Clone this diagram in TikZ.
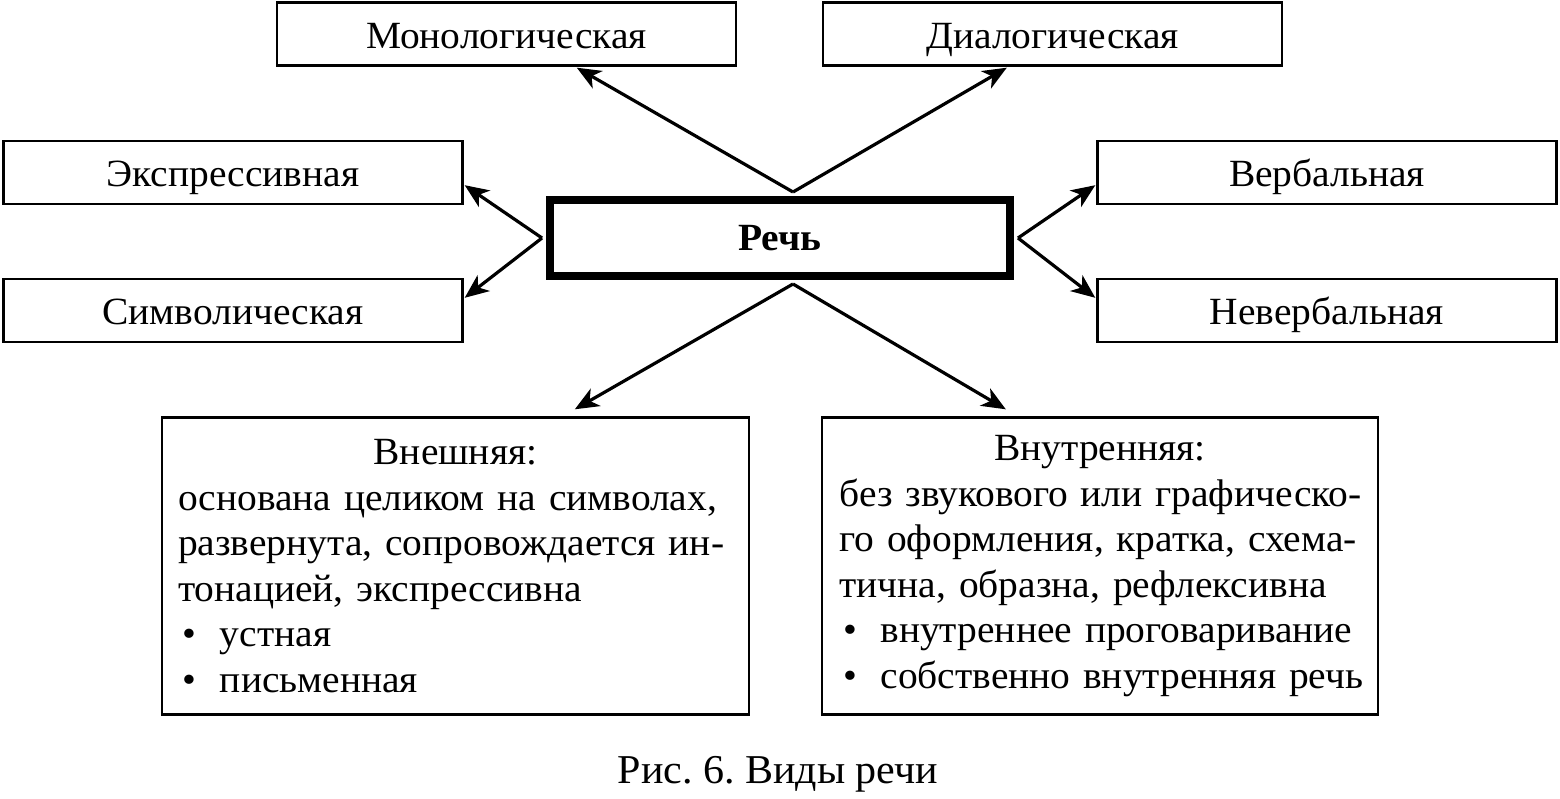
\documentclass[tikz,border=0pt]{standalone}
\usepackage{fontspec}
\setmainfont[FakeStretch=1.025]{Liberation Serif}
\usetikzlibrary{arrows.meta,calc}
\begin{document}
\frenchspacing
\begin{tikzpicture}[x=1pt,y=-1pt,
  txt/.style={font=\fontsize{38.5}{45.5}\selectfont},
  lbl/.style={draw,line width=2.4pt,minimum width=459pt,minimum height=63pt,inner sep=0pt,text height=30pt,text depth=2pt,txt},
  big/.style={draw,line width=2.4pt,minimum height=297pt,inner ysep=0pt,align=left,txt},
  arr/.style={line width=3.2pt,-{Stealth[length=24pt,width=20pt,inset=7pt]}}]
\useasboundingbox (0,0) rectangle (1560,798);
\node[lbl] (mono) at (506.5,34) {Монологическая};
\node[lbl] (dia) at (1052.5,34) {Диалогическая};
\node[lbl] (expr) at (233,172.5) {Экспрессивная};
\node[lbl] (symb) at (233,310.5) {Символическая};
\node[lbl] (verb) at (1327,172.5) {Вербальная};
\node[lbl] (nverb) at (1327,310.5) {Невербальная};
\node[draw,line width=8pt,minimum width=460pt,minimum height=76pt,inner sep=0pt,txt] (rech) at (780,238) {\bfseries Речь};
\node[big,text width=555pt,inner xsep=16pt] (ext) at (455.5,566) {%
\makebox[\linewidth]{Внешняя:}\\
\makebox[\linewidth][s]{основана целиком на символах,}\\
\makebox[\linewidth][s]{развернута, сопровождается ин-}\\
тонацией, экспрессивна\\
\mbox{\makebox[42pt][l]{\hspace{4pt}•}устная}\\
\mbox{\makebox[42pt][l]{\hspace{4pt}•}письменная}};
\node[big,text width=521pt,inner xsep=17.5pt] (int) at (1100,566) {%
\makebox[\linewidth]{Внутренняя:}\\
\makebox[\linewidth][s]{без звукового или графическо-}\\
\makebox[\linewidth][s]{го оформления, кратка, схема-}\\
тична, образна, рефлексивна\\
\mbox{\makebox[41pt][l]{\hspace{4pt}•}внутреннее проговаривание}\\
\mbox{\makebox[41pt][l]{\hspace{4pt}•}собственно внутренняя речь}};
\node[font=\fontsize{41}{48}\selectfont,inner sep=0pt] (cap) at (778,774) {Рис. 6. Виды речи};
\coordinate (rtop) at ($(rech.north)+(13,-4)$);
\coordinate (rbot) at ($(rech.south)+(13,4)$);
\coordinate (rl) at ($(rech.west)+(-4,0)$);
\coordinate (rr) at ($(rech.east)+(4,0)$);
\draw[arr] (rtop) -- ($(mono.south west)+(301,1)$);
\draw[arr] (rtop) -- ($(dia.south west)+(185,1)$);
\draw[arr] (rl) -- ($(expr.south east)+(1,-20)$);
\draw[arr] (rl) -- ($(symb.north east)+(1,20)$);
\draw[arr] (rr) -- ($(verb.south west)+(-1,-20)$);
\draw[arr] (rr) -- ($(nverb.north west)+(-1,20)$);
\draw[arr] (rbot) -- ($(ext.north west)+(414,-7)$);
\draw[arr] (rbot) -- ($(int.north west)+(185,-7)$);
\end{tikzpicture}
\end{document}
